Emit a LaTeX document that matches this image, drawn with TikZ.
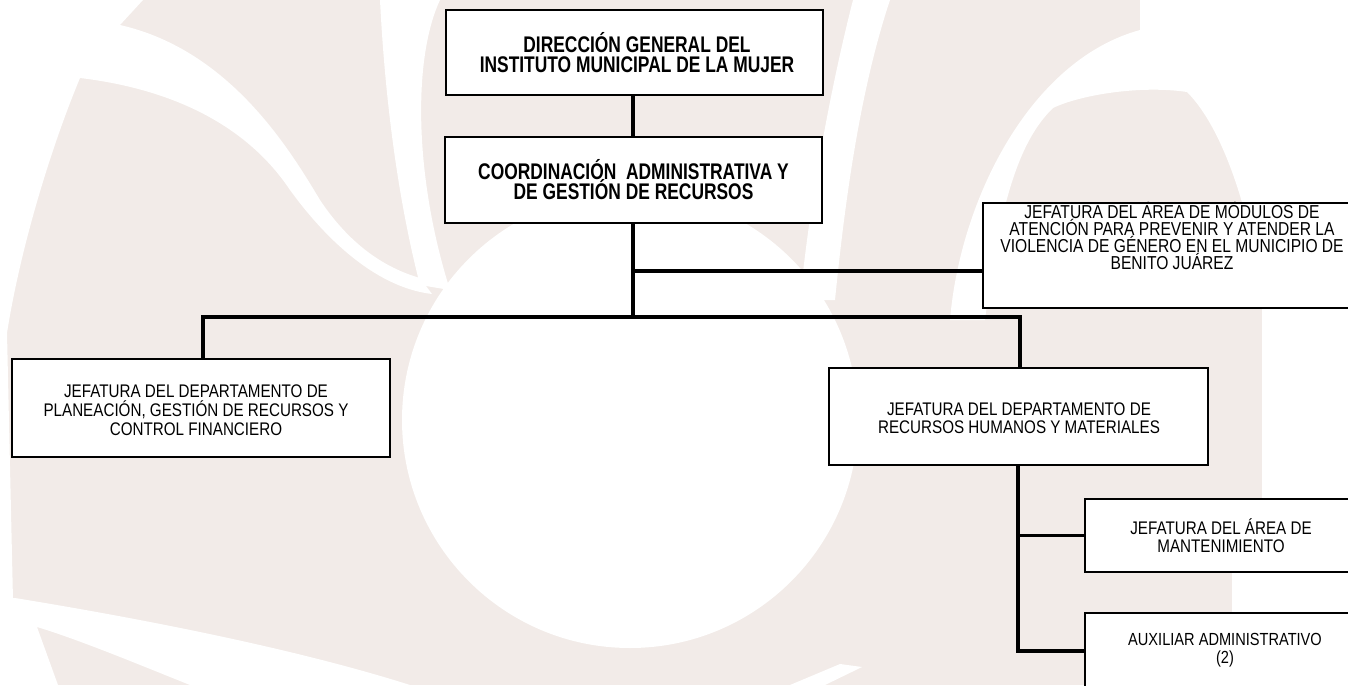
\documentclass[tikz,border=0pt]{standalone}
\usepackage{fontspec}
\setmainfont{Liberation Sans}
\usepackage{graphicx}
\definecolor{wm}{RGB}{242,235,232}
\newcommand\wtxt[4]{\scalebox{1}[#1]{\parbox{390pt}{\centering\fontsize{#2}{#3}\selectfont\lineskiplimit=-100pt\relax #4}}}
\tikzset{
  box/.style={draw=black, line width=1.8pt, fill=white, inner sep=0pt},
  conn/.style={draw=black, line width=3.5pt},
  txt/.style={inner sep=0pt},
}
\begin{document}
\begin{tikzpicture}[x=1pt,y=-1pt]
\useasboundingbox (0,0) rectangle (1348,685);
\clip (0,0) rectangle (1348,685);
% watermark background
\fill[wm] (0,0) rectangle (1348,685);
\fill[white] (0,0) -- (143,0) -- (120,25) .. controls (230,50) and (290,150) .. (320,200)
  .. controls (350,245) and (385,268) .. (420,278) -- (432,294)
  .. controls (380,288) and (330,245) .. (290,190) .. controls (250,130) and (180,90) .. (80,78)
  .. controls (50,150) and (20,250) .. (7,333) -- (13,600) -- (0,600) -- cycle;
\fill[white] (380,0) -- (440,0) .. controls (412,60) and (415,180) .. (450,290) -- (420,285)
  .. controls (398,200) and (385,100) .. (380,0) -- cycle;
\fill[white] (853,0) -- (890,0) .. controls (860,90) and (845,200) .. (835,300) -- (800,300)
  .. controls (810,200) and (830,90) .. (853,0) -- cycle;
\fill[white] (1140,0) -- (1348,0) -- (1348,685) -- (1232,685) -- (1232,560) -- (1262,500) -- (1262,300)
  .. controls (1252,220) and (1225,130) .. (1187,92) .. controls (1140,85) and (1080,95) .. (1053,108)
  .. controls (1020,140) and (1000,200) .. (985,320) -- (950,320)
  .. controls (960,200) and (1030,60) .. (1140,30) -- cycle;
\fill[white] (630,420) circle[radius=228pt];
\fill[white] (0,598) -- (15,598) .. controls (150,620) and (300,650) .. (410,685) -- (190,685)
  .. controls (140,665) and (80,640) .. (37,627) -- (58,685) -- (0,685) -- cycle;
\fill[white] (790,685) -- (840,664) -- (862,667) -- (825,685) -- cycle;

% boxes
\node[box, minimum width=377pt, minimum height=85pt] (b1) at (634.5,52.5) {};
\node[box, minimum width=377pt, minimum height=86pt] (b2) at (633.5,180) {};
\node[box, minimum width=378pt, minimum height=105pt] (b3) at (1172,255.5) {};
\node[box, minimum width=378pt, minimum height=98pt] (b4) at (201,408) {};
\node[box, minimum width=379pt, minimum height=97pt] (b5) at (1018.5,416.5) {};
\node[box, minimum width=270pt, minimum height=73pt] (b6) at (1220,535.5) {};
\node[box, minimum width=270pt, minimum height=76pt] (b7) at (1220,651) {};

% connectors
\coordinate (hub) at (633,317);
\coordinate (mid) at (633,271);
\coordinate (lj) at (203,317);
\coordinate (rj) at (1020,317);
\coordinate (rv) at (1018,0);
\draw[conn] (b1.south -| hub) -- (b2.north -| hub);
\draw[conn] (b2.south -| hub) -- (hub);
\draw[conn] (mid) -- (b3.west |- mid);
\draw[conn] (b4.north -| lj) -- (lj) -- (rj) -- (b5.north -| rj);
\draw[conn] (b5.south -| rv) -- (rv |- b7.west) -- (b7.west);
\draw[conn] (rv |- b6.west) -- (b6.west);

% texts
\node[txt] (t1) at (637,53) {\wtxt{1.3}{17.4}{15.4}{\bfseries DIRECCIÓN GENERAL DEL\\INSTITUTO MUNICIPAL DE LA MUJER}};
\node[txt] (t2) at (633.5,179.5) {\wtxt{1.3}{17.4}{15.4}{\bfseries COORDINACIÓN\ \ ADMINISTRATIVA Y\\DE GESTIÓN DE RECURSOS}};
\node[txt] (t3) at (1172,236) {\wtxt{1.2}{15.6}{14.2}{JEFATURA DEL ÁREA DE MÓDULOS DE\\ATENCIÓN PARA PREVENIR Y ATENDER LA\\VIOLENCIA DE GÉNERO EN EL MUNICIPIO DE\\BENITO JUÁREZ}};
\node[txt] (t4) at (196,410) {\wtxt{1.2}{15.2}{15.6}{JEFATURA DEL DEPARTAMENTO DE\\PLANEACIÓN, GESTIÓN DE RECURSOS Y\\CONTROL FINANCIERO}};
\node[txt] (t5) at (1019,418) {\wtxt{1.2}{15.2}{15.2}{JEFATURA DEL DEPARTAMENTO DE\\RECURSOS HUMANOS Y MATERIALES}};
\node[txt] (t6) at (1221,536) {\wtxt{1.2}{15.2}{15.2}{JEFATURA DEL ÁREA DE\\MANTENIMIENTO}};
\node[txt] (t7) at (1225,650) {\wtxt{1.2}{14.6}{15.2}{AUXILIAR ADMINISTRATIVO\\(2)}};
\end{tikzpicture}
\end{document}
